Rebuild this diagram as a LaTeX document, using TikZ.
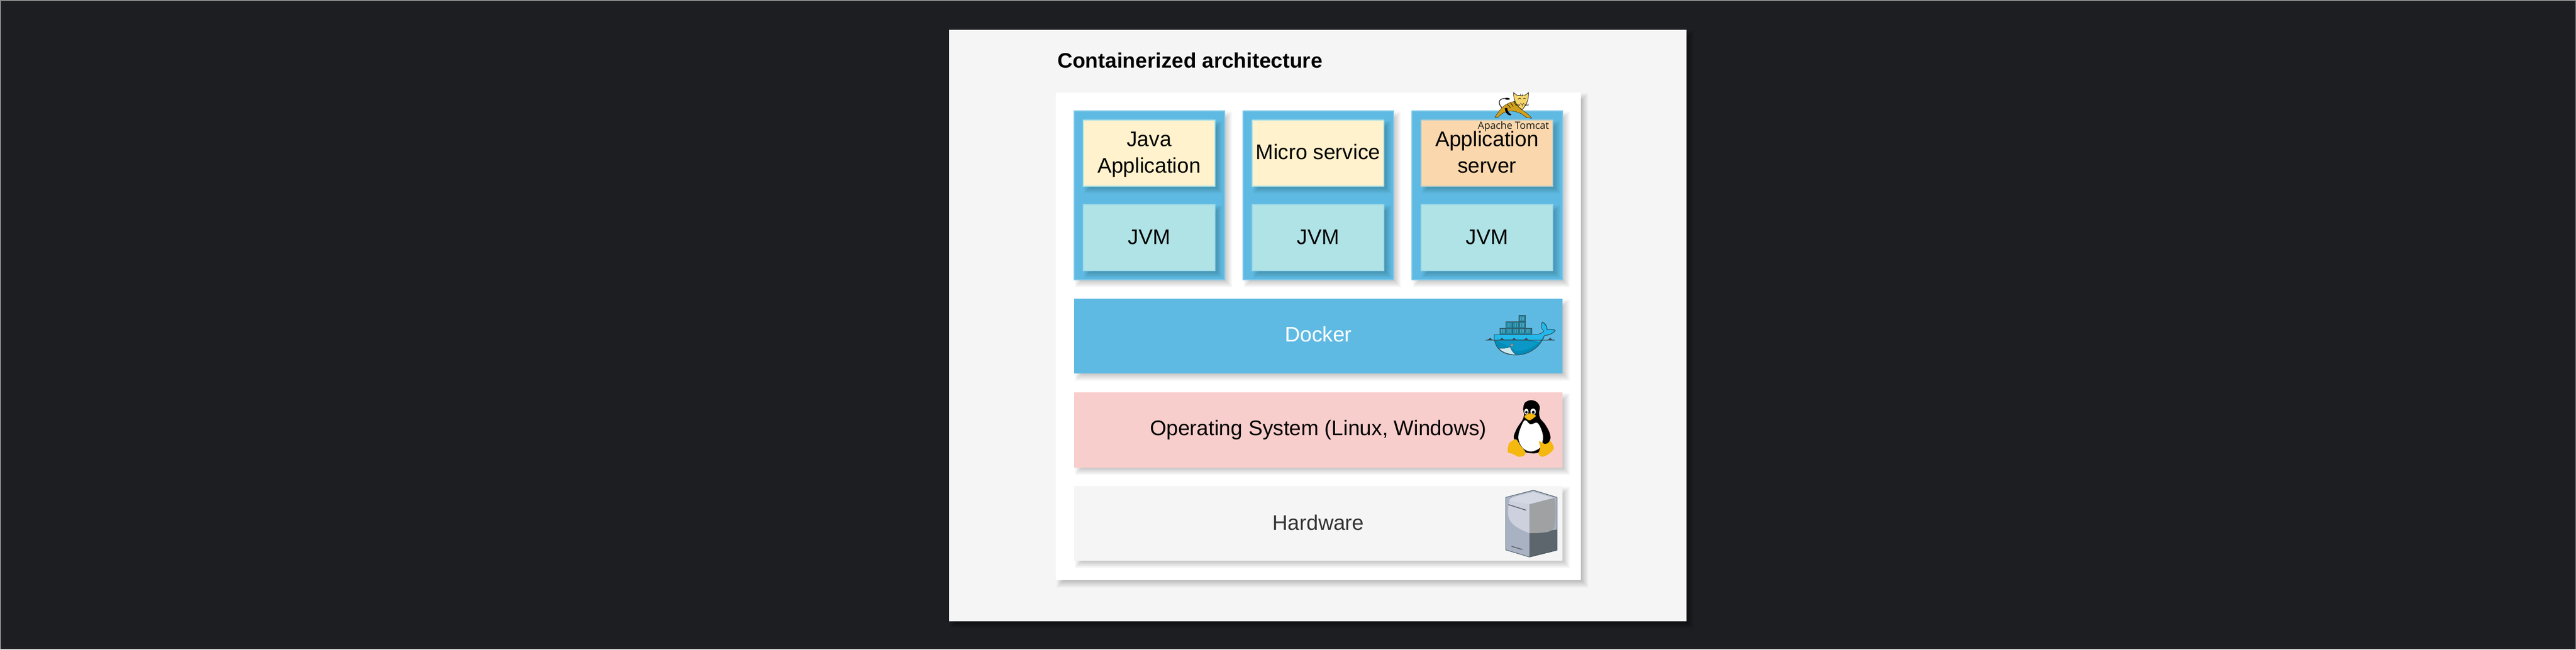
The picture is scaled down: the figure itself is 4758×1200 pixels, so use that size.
\documentclass[tikz,border=0pt]{standalone}
\usepackage{fontspec}
\setmainfont{Liberation Sans}
\newfontfamily\tomfont{Open Sans}
\definecolor{pagebg}{HTML}{1C1E22}
\definecolor{pageline}{HTML}{8A8A8A}
\definecolor{panelbg}{HTML}{F5F5F5}
\definecolor{boxblue}{HTML}{5FBAE3}
\definecolor{edgeblue}{HTML}{7FC8E8}
\definecolor{boxyellow}{HTML}{FFF2CC}
\definecolor{boxorange}{HTML}{FAD7AC}
\definecolor{boxteal}{HTML}{B0E3E6}
\definecolor{boxpink}{HTML}{F8CECC}
\definecolor{dockline}{HTML}{3A4D54}
\definecolor{docktop}{HTML}{24B8EB}
\definecolor{dockbot}{HTML}{008BB8}
\definecolor{dockbox}{HTML}{1F86A2}
\definecolor{dockhi}{HTML}{62B4CA}
\definecolor{catgold}{HTML}{D1A11B}
\definecolor{cathead}{HTML}{F8D66D}
\definecolor{tuxfoot}{HTML}{F4B80F}
\definecolor{srvleft}{HTML}{A9B2C3}
\definecolor{srvlight}{HTML}{CDD1DD}
\definecolor{srvtop}{HTML}{D4D8E3}
\definecolor{srvright}{HTML}{9FA1A3}
\definecolor{srvdark}{HTML}{5D656D}
\tikzset{
  block/.style={inner sep=0pt,outer sep=0pt,align=center,font=\fontsize{39}{49}\selectfont,text height=30pt,text depth=6pt},
  twolines/.style={text height=,text depth=},
  whitepanel/.style={block,fill=white},
  column/.style={block,fill=boxblue,draw=edgeblue,line width=1.5pt},
  appyellow/.style={block,fill=boxyellow,draw=boxteal,line width=1.5pt},
  apporange/.style={block,fill=boxorange,draw=edgeblue!50!boxorange,line width=1.5pt},
  jvmbox/.style={block,fill=boxteal,draw=edgeblue!40!boxteal,line width=1.5pt},
  dockerbox/.style={block,fill=boxblue,text=white,text height=26pt},
  osbox/.style={block,fill=boxpink,text height=25pt},
  hwbox/.style={block,fill=panelbg,text=black!80},
  titletext/.style={inner sep=0pt,anchor=base west,font=\fontsize{38.8}{48}\selectfont\bfseries},
  tomcattext/.style={inner sep=0pt,anchor=base,font=\fontsize{18.5}{20}\selectfont\tomfont,text=black!90},
  icon/.style={x=0.3333pt,y=-0.3333pt},
}
\newcommand\softshadow[4]{%
  \foreach \d in {0,...,13}{\fill[black,opacity=.015] ({#1+1+\d},{#2+1+\d}) rectangle ({#3+14-\d},{#4+14-\d});}}
\newcommand\blocknode[7]{% name, x0, y0, x1, y1, style, text
  \softshadow{#2}{#3}{#4}{#5}%
  \pgfmathsetmacro\bw{#4-#2}\pgfmathsetmacro\bh{#5-#3}%
  \node[#6,minimum width=\bw pt,minimum height=\bh pt] (#1) at ({(#2+#4)/2},{(#3+#5)/2}) {#7};}
\newcommand\twoline[2]{\rule{0pt}{33pt}#1\\#2\rule[-8.5pt]{0pt}{8.5pt}}
\begin{document}
\begin{tikzpicture}[x=1pt,y=-1pt]
\path[use as bounding box] (0,0) rectangle (4758,1200);
\fill[pagebg] (0,0) rectangle (4758,1200);
\draw[pageline,line width=1.5pt] (0.75,0.75) rectangle (4757.25,1199.25);
% sheet
\softshadow{1753}{55}{3115}{1148}
\fill[panelbg] (1753,55) rectangle (3115,1148);
\node[titletext] (title) at (1953,125) {Containerized architecture};
\blocknode{host}{1950}{171}{2920}{1072}{whitepanel}{}
% columns
\blocknode{colA}{1984}{205}{2262}{517}{column}{}
\blocknode{colB}{2296}{205}{2574}{517}{column}{}
\blocknode{colC}{2608}{205}{2886}{517}{column}{}
\blocknode{java}{2001}{222}{2244}{344}{appyellow,twolines}{\twoline{Java}{Application}}
\blocknode{micro}{2313}{222}{2556}{344}{appyellow,text height=28pt}{Micro service}
\blocknode{appsrv}{2625}{222}{2868}{344}{apporange,twolines}{\twoline{Application}{server}}
\blocknode{jvmA}{2001}{378}{2244}{500}{jvmbox}{JVM}
\blocknode{jvmB}{2313}{378}{2556}{500}{jvmbox}{JVM}
\blocknode{jvmC}{2625}{378}{2868}{500}{jvmbox}{JVM}
% layers
\blocknode{docker}{1984}{552}{2886}{690}{dockerbox}{Docker}
\blocknode{os}{1984}{725}{2886}{864}{osbox}{Operating System (Linux, Windows)}
\blocknode{hw}{1984}{898}{2886}{1036}{hwbox}{Hardware}
% Apache Tomcat logo
\begin{scope}[shift={(2680,150)},icon]
  \draw[black,line width=1.1pt,line cap=round] (282,146) .. controls (258,125) and (262,92) .. (305,96);
  \fill[black] (298,97) .. controls (308,88) and (320,92) .. (328,99) .. controls (318,105) and (306,105) .. (298,97) -- cycle;
  \fill[catgold,draw=black,line width=.4pt] (243,199) .. controls (258,180) and (265,165) .. (285,145) .. controls (305,125) and (335,115) .. (352,112)
     -- (392,158) .. controls (415,172) and (435,190) .. (447,205) -- (418,202) .. controls (395,180) and (375,172) .. (345,166)
     .. controls (310,160) and (280,178) .. (262,199) -- cycle;
  \fill[black] (298,150) -- (312,148) .. controls (312,165) and (320,178) .. (335,184) -- (330,190) .. controls (312,190) and (300,172) .. (298,150) -- cycle;
  \draw[black,line width=.7pt] (312,128) -- (330,148) (330,120) -- (345,140) (348,115) -- (362,135);
  \fill[cathead,draw=black,line width=.7pt] (347,63) -- (368,80) -- (410,78) -- (430,63) .. controls (430,95) and (425,125) .. (395,157)
     .. controls (375,150) and (345,115) .. (347,63) -- cycle;
  \draw[black,line width=.6pt] (385,70) -- (388,85) (398,70) -- (396,85) (372,100) .. controls (378,92) and (384,92) .. (388,100)
     (400,98) .. controls (405,92) and (410,92) .. (414,98) (385,122) -- (395,130) -- (405,122) (395,130) -- (395,140)
     (358,126) -- (382,130) (360,134) -- (382,134) (408,130) -- (432,128) (408,134) -- (430,134);
  \node[tomcattext] (tomcatlabel) at (346,265) {Apache Tomcat};
\end{scope}
% Docker logo
\begin{scope}[shift={(2700,560)},icon]
  \foreach \cx/\cy in {315/68,245/103,280/103,315/103,210/138,245/138,280/138,315/138,350/138}{
    \fill[dockbox,draw=dockline,line width=.9pt] (\cx,\cy) rectangle ++(37,35);
    \draw[dockhi,line width=.6pt] (\cx+10,\cy+7) -- ++(0,21) (\cx+18,\cy+7) -- ++(0,21) (\cx+26,\cy+7) -- ++(0,21);
  }
  \fill[dockbot,draw=dockline,line width=1pt] (180,174) -- (400,174) .. controls (425,174) and (445,170) .. (455,155)
     .. controls (445,145) and (430,130) .. (447,105) .. controls (462,112) and (473,125) .. (472,147)
     .. controls (490,142) and (510,145) .. (518,152) .. controls (505,172) and (480,178) .. (458,180)
     .. controls (440,235) and (380,288) .. (300,288) .. controls (225,288) and (175,250) .. (180,174) -- cycle;
  \fill[docktop] (182,176) -- (400,176) .. controls (425,176) and (445,172) .. (457,157)
     .. controls (447,145) and (433,130) .. (448,110) .. controls (460,118) and (470,130) .. (470,150)
     .. controls (488,146) and (505,148) .. (514,153) .. controls (500,170) and (478,175) .. (456,178)
     .. controls (446,196) and (438,206) .. (428,216) .. controls (360,196) and (260,200) .. (182,204) -- cycle;
  \fill[dockbot!70!docktop] (190,208) .. controls (270,205) and (360,205) .. (425,220) .. controls (385,255) and (335,268) .. (298,266)
     .. controls (270,240) and (225,225) .. (190,208) -- cycle;
  \fill[white!80!dockbot,draw=dockline,line width=.6pt] (205,252) .. controls (225,252) and (250,250) .. (268,243) .. controls (275,262) and (285,275) .. (300,286)
     .. controls (260,285) and (228,275) .. (205,252) -- cycle;
  \fill[white!80!black,draw=dockline,line width=.5pt] (278,232) circle (8);
  \fill[dockline] (278,232) circle (4);
  \draw[dockline,line width=1.1pt] (133,205) -- (515,205);
  \foreach \wx in {157,222,290,357,490}{\fill[dockline] (\wx-20,205) .. controls (\wx-8,203) and (\wx-6,197) .. (\wx,192) .. controls (\wx+6,197) and (\wx+8,203) .. (\wx+20,205) -- cycle;}
\end{scope}
% Tux
\begin{scope}[shift={(2750,720)},icon]
  \fill[black] plot[smooth cycle,tension=.55] coordinates {(232,58) (200,72) (190,105) (195,140) (185,170) (155,215) (138,268) (170,310) (195,345) (270,350) (310,305) (340,275) (335,235) (310,190) (285,160) (278,130) (282,95) (265,68)};
  \fill[white] plot[smooth cycle,tension=.6] coordinates {(198,170) (230,192) (268,184) (292,225) (300,270) (285,320) (235,343) (190,325) (165,280) (168,235)};
  \fill[white] (208,122) ellipse (12 and 17) (245,122) ellipse (15 and 18);
  \fill[black] (208,125) circle (7) (246,125) circle (8);
  \fill[tuxfoot,draw=black!40!tuxfoot,line width=.4pt] plot[smooth cycle,tension=.5] coordinates {(197,147) (225,131) (260,143) (248,157) (225,170) (206,160)};
  \fill[tuxfoot] plot[smooth cycle,tension=.45] coordinates {(105,345) (112,298) (150,275) (175,310) (203,345) (195,365) (165,372) (130,355)};
  \fill[tuxfoot] plot[smooth cycle,tension=.45] coordinates {(278,285) (305,298) (340,285) (360,325) (330,358) (295,372) (275,355) (285,320)};
  \fill[black] plot[smooth cycle,tension=.6] coordinates {(298,285) (318,272) (338,278) (325,297) (305,299)};
\end{scope}
% Server
\begin{scope}[shift={(2750,890)},icon]
  \fill[srvleft] (93,87) -- (247,47) -- (378,87) -- (378,380) -- (225,418) -- (93,378) -- cycle;
  \fill[srvdark] (225,285) -- (378,265) -- (378,380) -- (225,418) -- cycle;
  \fill[srvlight] (120,95) -- (225,125) -- (225,285) .. controls (165,262) and (105,235) .. (106,170) -- (108,125) -- cycle;
  \fill[srvtop] (112,105) .. controls (120,85) and (150,80) .. (247,56) -- (362,90) -- (225,125) -- cycle;
  \fill[srvright] (225,125) -- (362,90) .. controls (372,130) and (372,200) .. (364,245) .. controls (355,280) and (320,285) .. (225,285) -- cycle;
  \draw[dockline,line width=.8pt,line join=round] (93,87) -- (247,47) -- (378,87) -- (378,380) -- (225,418) -- (93,378) -- cycle;
  \draw[srvdark,line width=1.6pt] (108,127) -- (206,158) (125,358) -- (185,376);
\end{scope}
\end{tikzpicture}
\end{document}
